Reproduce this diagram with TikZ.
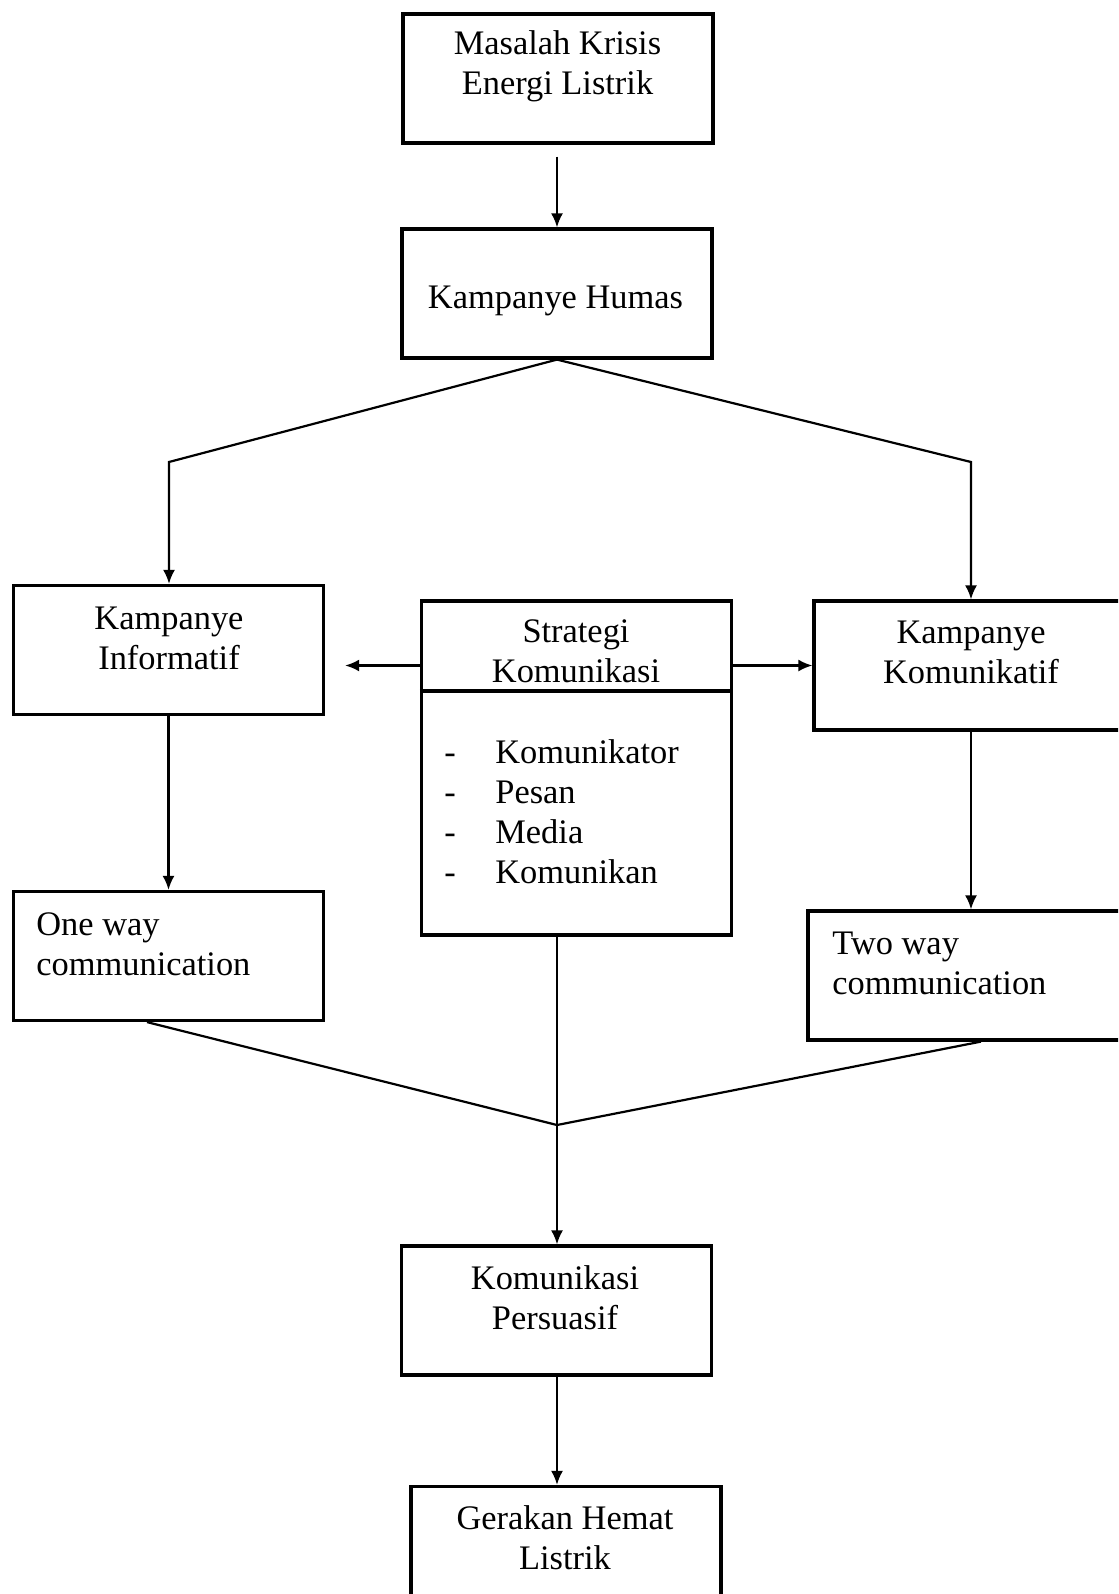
\documentclass[tikz,border=0pt]{standalone}
\usepackage{fontspec}
\setmainfont{Liberation Serif}
\usepackage{tikz}
\usetikzlibrary{arrows.meta}
\tikzset{
  kotak/.style={draw, line width=1.6pt, inner sep=0pt, minimum width=155pt, minimum height=64.5pt},
  teks/.style={inner sep=0pt, align=center, font=\fontsize{17.2}{20}\selectfont},
  garis/.style={line width=1.1pt}
}

\begin{document}
\begin{tikzpicture}[x=0.5pt, y=-0.5pt, >={Latex[length=7pt,width=6pt]}]

\useasboundingbox (0,0) rectangle (1118,1594);
\clip (0,0) rectangle (1118,1594);

\node[kotak] (krisis) at (558,78.5) {};
\node[kotak] (humas) at (557,293.5) {};
\node[kotak] (informatif) at (168.5,650) {};
\node[kotak, minimum height=167pt] (strategi) at (576.5,768) {};
\node[kotak, minimum width=170pt] (komunikatif) at (984,665.5) {};
\node[kotak] (oneway) at (168.5,956) {};
\node[kotak, minimum width=170pt] (twoway) at (978,975.5) {};
\node[kotak] (persuasif) at (556.5,1310.5) {};
\node[kotak] (gerakan) at (566,1551) {};

\node[teks] (tkrisis) at (557.5,66.5) {Masalah Krisis\\Energi Listrik};
\node[teks] (thumas) at (555.5,301) {Kampanye Humas};
\node[teks] (tinformatif) at (169,638) {Kampanye\\Informatif};
\node[teks] (tstrategi) at (576,651.5) {Strategi\\Komunikasi};
\node[teks, align=left, anchor=west] (tunsur) at (444,811.5) {\makebox[25.5pt][l]{-}Komunikator\\\makebox[25.5pt][l]{-}Pesan\\\makebox[25.5pt][l]{-}Media\\\makebox[25.5pt][l]{-}Komunikan};
\node[teks] (tkomunikatif) at (971,652.5) {Kampanye\\Komunikatif};
\node[teks, align=left, anchor=west] (toneway) at (36,944.5) {One way\\communication};
\node[teks, align=left, anchor=west] (ttwoway) at (832,963.5) {Two way\\communication};
\node[teks] (tpersuasif) at (555,1297.5) {Komunikasi\\Persuasif};
\node[teks] (tgerakan) at (565,1538) {Gerakan Hemat\\Listrik};

\draw[line width=1.6pt] (strategi.west |- 0,691) -- (strategi.east |- 0,691);

\coordinate (kiri) at (169,462);
\coordinate (kanan) at (971,462);
\coordinate (temu) at (557,1125);

\draw[garis, ->, shorten <=6pt] (krisis.south -| humas) -- (humas.north);
\draw[garis, ->] (humas.south) -- (kiri) -- (kiri |- informatif.north);
\draw[garis, ->] (humas.south) -- (kanan) -- (kanan |- komunikatif.north);
\draw[garis, ->] (strategi.west |- komunikatif) -- ([xshift=10pt]informatif.east |- komunikatif);
\draw[garis, ->] (strategi.east |- komunikatif) -- (komunikatif.west);
\draw[garis, ->] (informatif.south) -- (oneway.north);
\draw[garis, ->] (kanan |- komunikatif.south) -- (kanan |- twoway.north);
\draw[garis] ([xshift=-10.75pt]oneway.south) -- (temu);
\draw[garis] ([xshift=1.5pt]twoway.south) -- (temu);
\draw[garis, ->] (strategi.south -| temu) -- (temu |- persuasif.north);
\draw[garis, ->] (temu |- persuasif.south) -- (temu |- gerakan.north);

\end{tikzpicture}
\end{document}
